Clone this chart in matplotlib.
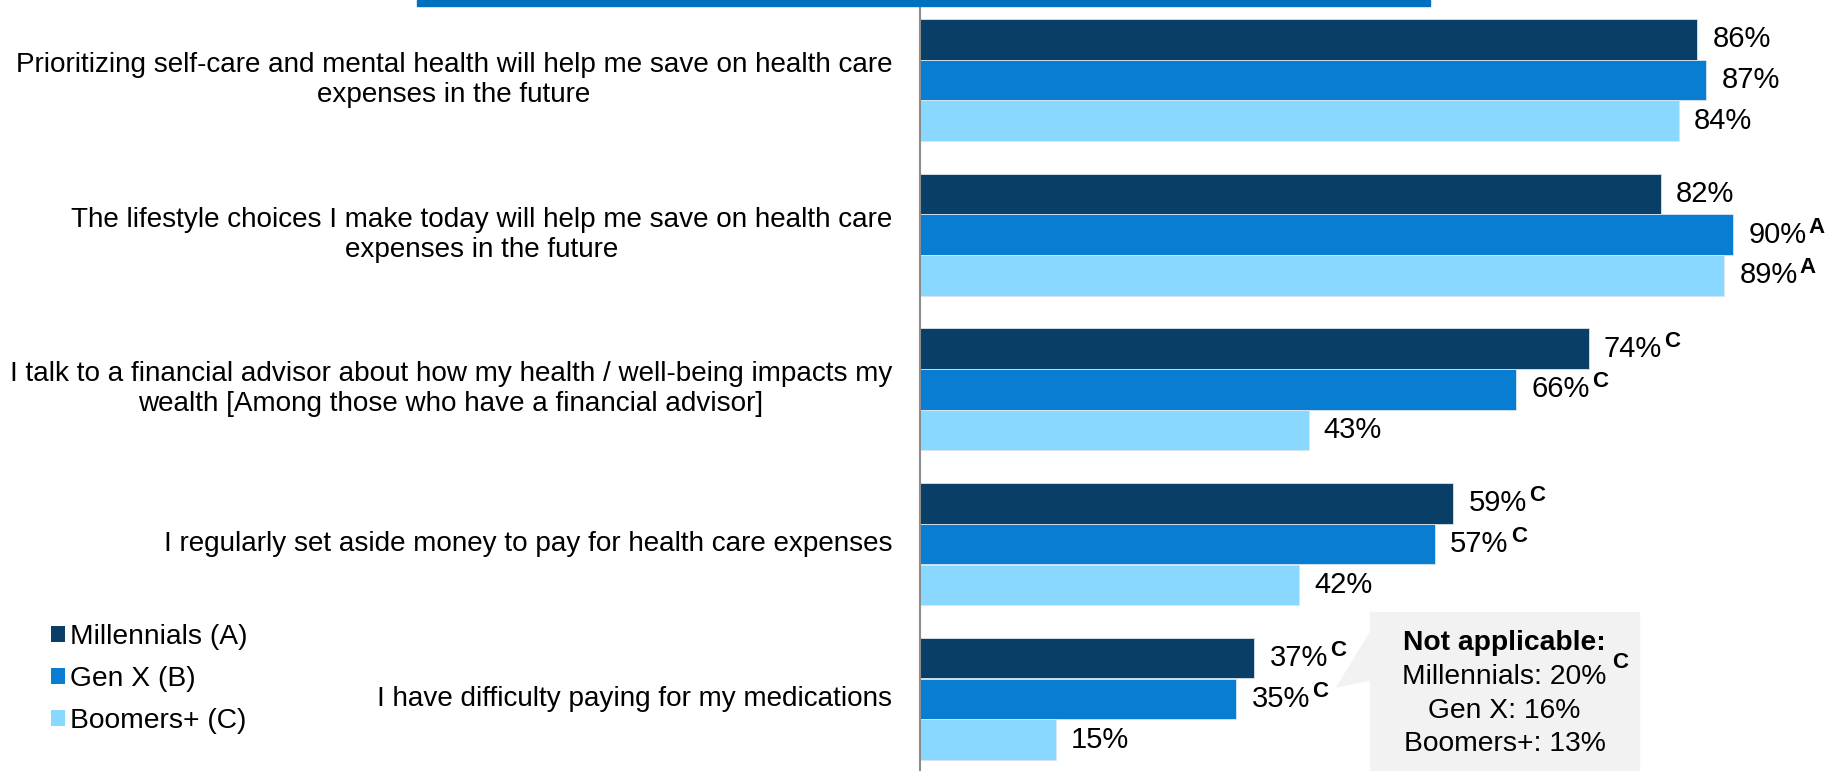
import matplotlib.pyplot as plt
from matplotlib.patches import Patch, Rectangle, Polygon

plt.rcParams['font.family'] = ['Liberation Sans', 'DejaVu Sans']

# survey statements, top to bottom
statements = [
    "Prioritizing self-care and mental health will help me save on health care\nexpenses in the future",
    "The lifestyle choices I make today will help me save on health care\nexpenses in the future",
    "I talk to a financial advisor about how my health / well-being impacts my\nwealth [Among those who have a financial advisor]",
    "I regularly set aside money to pay for health care expenses",
    "I have difficulty paying for my medications",
]
groups = ["Millennials (A)", "Gen X (B)", "Boomers+ (C)"]
colors = ["#093E66", "#087DD2", "#89D8FF"]

millennials = [86, 82, 74, 59, 37]
genx = [87, 90, 66, 57, 35]
boomers = [84, 89, 43, 42, 15]

# significance letters shown next to each value
millennials_sig = ["", "", "C", "C", "C"]
genx_sig = ["", "A", "C", "C", "C"]
boomers_sig = ["", "A", "", "", ""]

na_labels = ["Millennials", "Gen X", "Boomers+"]
na_values = [20, 16, 13]
na_sig = ["C", "", ""]

W, H, DPI = 1841, 771, 100
fig = plt.figure(figsize=(W / DPI, H / DPI), dpi=DPI)

# plot area: bars start at x=920px, 9.035px per percent
x0 = 920
px_per_pct = 9.035
ax = fig.add_axes([x0 / W, 0, 1 - x0 / W, 1])
ax.set_xlim(0, (W - x0) / px_per_pct)
group_px = 154.7
ax.set_ylim(-80 / group_px + H / group_px, -80 / group_px)

bar_h = 40.5 / group_px
step = 40.7 / group_px
series = [(millennials, millennials_sig), (genx, genx_sig), (boomers, boomers_sig)]
for k, (vals, sigs) in enumerate(series):
    ys = [i + (k - 1) * step for i in range(len(vals))]
    ax.barh(ys, vals, height=bar_h, color=colors[k], edgecolor="#d9e6f0",
            linewidth=0.6, label=groups[k])
    for y, v, s in zip(ys, vals, sigs):
        t = ax.annotate(f"{v}%", xy=(v, y), xytext=(11, 0), textcoords="offset points",
                        ha="left", va="center", fontsize=21, color="black")
        if s:
            # raised letter right after the percent sign
            ax.annotate(s, xy=(1, 0), xycoords=t, xytext=(1.5, 11.5),
                        textcoords="offset points", ha="left", va="baseline",
                        fontsize=16, fontweight="bold")

for i, label in enumerate(statements):
    ax.text(-(x0 - 892) / px_per_pct, i, label, ha="right", va="center",
            multialignment="center", fontsize=20.1, linespacing=1.2)

for side in ["top", "right", "bottom"]:
    ax.spines[side].set_visible(False)
ax.spines["left"].set_color("#8c8c8c")
ax.spines["left"].set_linewidth(1.5)
ax.set_xticks([])
ax.set_yticks([])
ax.patch.set_alpha(0)

# blue header strip at the very top
fig.patches.append(Rectangle((417 / W, 1 - 6 / H), (1430 - 417) / W, 6 / H,
                             transform=fig.transFigure, color="#0070C0", zorder=5))

# callout box for "not applicable"
bx0, bx1, by0, by1 = 1370, 1639, 612, 771
fig.patches.append(Rectangle((bx0 / W, 1 - by1 / H), (bx1 - bx0) / W, (by1 - by0) / H,
                             transform=fig.transFigure, color="#F2F2F2", zorder=1))
fig.patches.append(Polygon([(bx0 / W, 1 - 633 / H), (1337 / W, 1 - 687 / H), (bx0 / W, 1 - 680 / H)],
                           closed=True, transform=fig.transFigure, color="#F2F2F2", zorder=1))
cx = (bx0 + bx1) / 2 / W
fig.text(cx, 1 - 643 / H, "Not applicable:", ha="center", va="center",
         fontsize=20.3, fontweight="bold", zorder=3)
for j, (lab, v, s) in enumerate(zip(na_labels, na_values, na_sig)):
    fig.text(cx, 1 - (677 + 33.5 * j) / H, f"{lab}: {v}%", ha="center", va="center",
             fontsize=20.3, zorder=3)
    if s:
        fig.text(1612 / W, 1 - 663 / H, s, ha="left", va="center", fontsize=16,
                 fontweight="bold", zorder=3)

handles = [Patch(facecolor=c) for c in colors]
fig.legend(handles, groups, loc="upper left", bbox_to_anchor=(31 / W, 1 - 604 / H),
           frameon=False, fontsize=20.3, handlelength=0.5, handleheight=0.5,
           handletextpad=0.2, labelspacing=0.58, borderpad=0.2)

fig.savefig("out.png", dpi=DPI)
